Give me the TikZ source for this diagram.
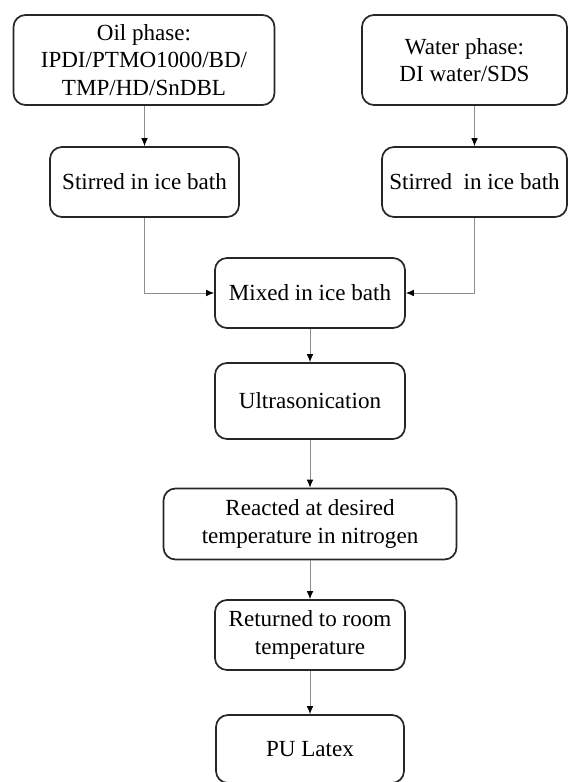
\documentclass[tikz,border=0pt]{standalone}
\usepackage{fontspec}
\setmainfont{Liberation Serif}
\usepackage{tikz}
\usetikzlibrary{positioning}
\usetikzlibrary{arrows.meta}
\usetikzlibrary{backgrounds}
\tikzset{stepbox/.style={draw=black!85,line width=1.3pt,rounded corners=9pt,align=center,inner sep=2pt,font=\fontsize{17.3}{20.5}\selectfont},
link/.style={draw=black!45,line width=0.7pt,-{Latex[black,length=6pt,width=5pt]}}}

\begin{document}
\begin{tikzpicture}[x=0.75pt,y=-0.75pt]
\useasboundingbox (0,0) rectangle (578,782);
\node (oil) at (144,60) [stepbox,minimum width=195.75pt,minimum height=67.5pt] {Oil phase:\\IPDI/PTMO1000/BD/\\TMP/HD/SnDBL};
\node (water) at (464.5,60) [stepbox,minimum width=153.75pt,minimum height=67.5pt] {Water phase:\\DI water/SDS};
\node (stirl) at (144.5,182) [stepbox,minimum width=141.75pt,minimum height=52.5pt] {Stirred in ice bath};
\node (stirr) at (474.5,182) [stepbox,minimum width=138.75pt,minimum height=52.5pt] {Stirred\ \ in ice bath};
\node (mixed) at (310,293) [stepbox,minimum width=142.5pt,minimum height=52.5pt] {Mixed in ice bath};
\node (ultra) at (310,401) [stepbox,minimum width=142.5pt,minimum height=57pt] {Ultrasonication};
\node (react) at (310,524) [stepbox,minimum width=219.75pt,minimum height=53.25pt] {Reacted at desired\\temperature in nitrogen};
\node (ret) at (310,635) [stepbox,minimum width=142.5pt,minimum height=52.5pt] {Returned to room\\temperature};
\node (pu) at (310,749) [stepbox,minimum width=141pt,minimum height=51pt] {PU Latex};

\draw[link] (oil.south -| stirl.north) -- (stirl.north);
\draw[link] (water.south -| stirr.north) -- (stirr.north);
\draw[link] (stirl.south) |- (mixed.west);
\draw[link] (stirr.south) |- (mixed.east);
\draw[link] (mixed) -- (ultra);
\draw[link] (ultra) -- (react);
\draw[link] (react) -- (ret);
\draw[link] (ret) -- (pu);
\end{tikzpicture}
\end{document}
